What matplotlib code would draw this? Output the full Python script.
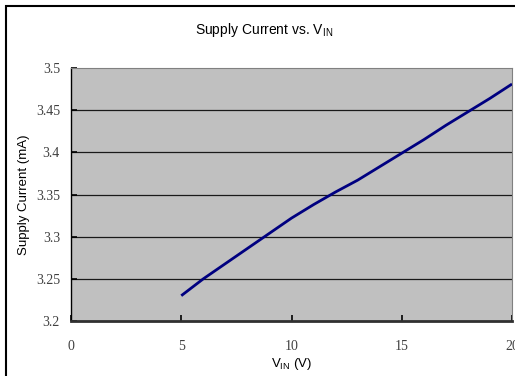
import matplotlib
matplotlib.use("Agg")
import matplotlib.pyplot as plt
import matplotlib.patches as patches

# Supply current vs input voltage
vin = [5, 6, 7, 8, 9, 10, 11, 12, 13, 14, 15, 16, 17, 18, 19, 20]
current_ma = [3.230, 3.250, 3.268, 3.286, 3.304, 3.322, 3.338, 3.353,
              3.367, 3.383, 3.399, 3.415, 3.432, 3.448, 3.464, 3.481]

x_ticks = [0, 5, 10, 15, 20]
y_ticks = [3.2, 3.25, 3.3, 3.35, 3.4, 3.45, 3.5]
y_tick_labels = ["3.2", "3.25", "3.3", "3.35", "3.4", "3.45", "3.5"]

sans = ["Liberation Sans Narrow", "Liberation Sans", "DejaVu Sans"]
serif = ["Liberation Serif", "DejaVu Serif"]

fig = plt.figure(figsize=(5.15, 3.76), dpi=100)
W, H = 515, 376

# outer chart frame (cropped at right and bottom)
frame = patches.Rectangle((6 / W, -0.1), 1.2, 1 - 6 / H + 0.1,
                          transform=fig.transFigure, fill=False,
                          edgecolor="black", lw=1.5, clip_on=False)
fig.patches.append(frame)

ax = fig.add_axes([71 / W, 1 - 321 / H, (512 - 71) / W, (321 - 68) / H])
ax.set_facecolor("#C0C0C0")

# horizontal gridlines
for y in y_ticks[1:-1]:
    ax.axhline(y, color="#1a1a1a", lw=0.9, zorder=1)

ax.plot(vin, current_ma, color="#000080", lw=2.0, zorder=3,
        solid_capstyle="butt")

ax.set_xlim(0, 20)
ax.set_ylim(3.2, 3.5)
ax.set_xticks(x_ticks)
ax.set_yticks(y_ticks)
ax.set_yticklabels(y_tick_labels)

for side in ("top", "right"):
    ax.spines[side].set_color("#808080")
    ax.spines[side].set_linewidth(0.8)
ax.spines["left"].set_color("black")
ax.spines["left"].set_linewidth(1.0)
ax.spines["bottom"].set_color("#303030")
ax.spines["bottom"].set_linewidth(2.0)

ax.tick_params(axis="both", direction="in", length=4, width=1.2,
               color="black", labelcolor="#404040", labelsize=10)
ax.tick_params(axis="x", pad=14)
ax.tick_params(axis="y", pad=8)
for lab in ax.get_xticklabels() + ax.get_yticklabels():
    lab.set_family(serif)

fig.text(264 / W, 1 - 30 / H, r"Supply Current vs. V$_{\mathregular{IN}}$",
         ha="center", va="center", fontsize=10, family=sans)
ax.set_xlabel(r"V$_{\mathregular{IN}}$ (V)", fontsize=9.5, family=sans,
              labelpad=2)
ax.set_ylabel("Supply Current (mA)", fontsize=9.5, family=sans, labelpad=4)

fig.savefig("out.png", dpi=100)
